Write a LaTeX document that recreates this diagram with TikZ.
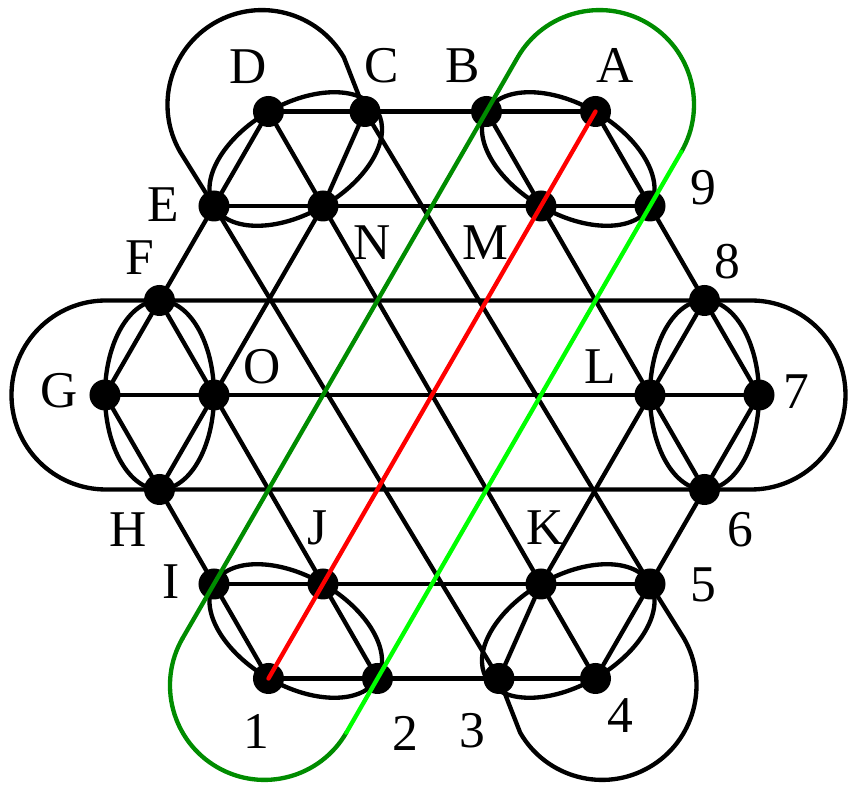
\documentclass[tikz,border=0pt]{standalone}
\usepackage{fontspec}
\setmainfont{Liberation Serif}
\usetikzlibrary{calc}
\definecolor{darkgrn}{rgb}{0,0.55,0}
\definecolor{litegrn}{rgb}{0,1,0}

\begin{document}
\begin{tikzpicture}[line width=1.3mm, line cap=round, line join=round, x=0.3mm, y=0.3mm,
    lbl/.style={font=\fontsize{44}{50}\selectfont, inner sep=0pt}]
  \useasboundingbox (-432,-390) rectangle (416,395);
  \coordinate (D) at (-163.5,283.5);
  \coordinate (C) at (-67,283.5);
  \coordinate (B) at (54.5,283.5);
  \coordinate (A) at (163.5,283.5);
  \coordinate (E) at (-218,189);
  \coordinate (N) at (-109,189);
  \coordinate (M) at (109,189);
  \coordinate (9) at (218,189);
  \coordinate (F) at (-272.5,94.5);
  \coordinate (8) at (272.5,94.5);
  \coordinate (G) at (-327,0);
  \coordinate (O) at (-218,0);
  \coordinate (L) at (218,0);
  \coordinate (7) at (327,0);
  \coordinate (H) at (-272.5,-94.5);
  \coordinate (6) at (272.5,-94.5);
  \coordinate (I) at (-218,-189);
  \coordinate (J) at (-109,-189);
  \coordinate (K) at (109,-189);
  \coordinate (5) at (218,-189);
  \coordinate (1) at (-163.5,-283.5);
  \coordinate (2) at (-54.5,-283.5);
  \coordinate (3) at (67,-283.5);
  \coordinate (4) at (163.5,-283.5);

  \coordinate (cTR) at (167.5,290.4);
  \coordinate (cBL) at (-167.5,-290.4);
  \coordinate (cTL) at (-170,290.4);
  \coordinate (cBR) at (170,-290.4);
  \coordinate (cL) at (-326,0);
  \coordinate (cR) at (319,0);
  \coordinate (gTd) at ($(cTR)+(150:94.5)$);
  \coordinate (gTl) at ($(cTR)+(-30:94.5)$);
  \coordinate (gBd) at ($(cBL)+(150:94.5)$);
  \coordinate (gBl) at ($(cBL)+(-30:94.5)$);
  \coordinate (kTE) at ($(cTL)+(210:94.5)$);
  \coordinate (kTC) at ($(cTL)+(30:94.5)$);
  \coordinate (kB3) at ($(cBR)+(210:94.5)$);
  \coordinate (rF) at ($(cR)+(90:94.5)$);
  \coordinate (lH) at ($(cL)+(270:94.5)$);

  \draw (D) -- (A) (E) -- (9) (G) -- (7) (I) -- (5) (1) -- (4);
  \draw (G) -- (D) (H) -- (N) -- (C) (3) -- (K) -- (8) (4) -- (7);
  \draw (A) -- (7) (B) -- (6) (D) -- (4) (F) -- (2) (G) -- (1);
  \draw (F) -- (8) -- (rF) arc[start angle=90, end angle=-90, radius=94.5] -- (6) -- (H)
    -- (lH) arc[start angle=270, end angle=90, radius=94.5] -- cycle;
  \draw (kTE) -- (E) -- (3) -- (kB3) arc[start angle=210, end angle=390, radius=94.5] -- (5)
    -- (C) -- (kTC) arc[start angle=30, end angle=210, radius=94.5] -- cycle;
  \foreach \a in {0,60,...,300}
    \draw[rotate=\a] (-272.5,0) ellipse[x radius=54.5, y radius=94.5];

  \foreach \p in {A,B,C,D,E,F,G,H,I,J,K,L,M,N,O,1,2,3,4,5,6,7,8,9}
    \fill (\p) circle (15.5);

  \draw[red] (1) -- (A);
  \draw[darkgrn] (gBd) -- (I) -- (B) -- (gTd) arc[start angle=150, end angle=-30, radius=94.5];
  \draw[darkgrn] (gBl) arc[start angle=-30, end angle=-210, radius=94.5];
  \draw[litegrn] (gTl) -- (9) -- (2) -- (gBl);

  \node[lbl] (tD) at (-183.5,328.5) {D};
  \node[lbl] (tC) at (-50.5,329.5) {C};
  \node[lbl] (tB) at (30.5,329.5) {B};
  \node[lbl] (tA) at (183,329.5) {A};
  \node[lbl] (tE) at (-269,190) {E};
  \node[lbl] (tN) at (-60,152) {N};
  \node[lbl] (tM) at (53,152) {M};
  \node[lbl] (t9) at (271,207) {9};
  \node[lbl] (tF) at (-292,137) {F};
  \node[lbl] (t8) at (295,133) {8};
  \node[lbl] (tG) at (-373,4) {G};
  \node[lbl] (tO) at (-170,28) {O};
  \node[lbl] (tL) at (168,28) {L};
  \node[lbl] (t7) at (364,3) {7};
  \node[lbl] (tH) at (-304,-135) {H};
  \node[lbl] (t6) at (308,-135) {6};
  \node[lbl] (tI) at (-261,-187) {I};
  \node[lbl] (tJ) at (-114,-133) {J};
  \node[lbl] (tK) at (113,-133) {K};
  \node[lbl] (t5) at (271,-190) {5};
  \node[lbl] (t1) at (-176,-336) {1};
  \node[lbl] (t2) at (-27,-338) {2};
  \node[lbl] (t3) at (40,-336) {3};
  \node[lbl] (t4) at (188,-321) {4};
\end{tikzpicture}
\end{document}
